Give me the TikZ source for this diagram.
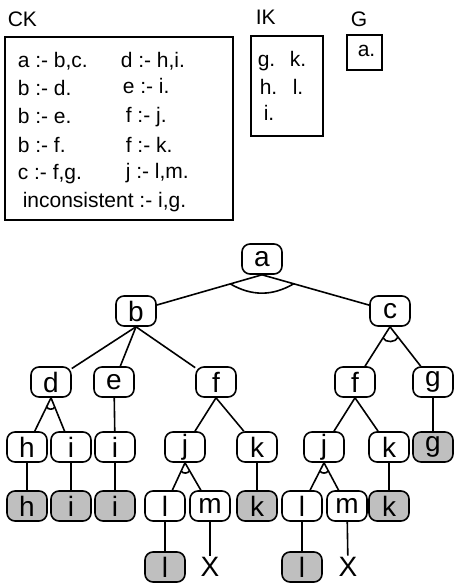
\documentclass[tikz,border=0pt]{standalone}
\usepackage{fontspec}
\setmainfont{Liberation Sans}
\usetikzlibrary{calc}
\newcommand{\boxfont}{\fontsize{21}{25}\selectfont}
\newcommand{\treefont}{\fontsize{28}{30}\selectfont}
\tikzset{
  goal/.style={draw, line width=1.6pt, rounded corners=8pt, minimum width=40pt,
    minimum height=30pt, inner sep=0pt, font=\treefont},
  fact/.style={goal, fill=black!25},
  fail/.style={inner sep=1pt, font=\treefont},
  clause/.style={anchor=base west, inner sep=0pt, font=\boxfont},
  andarc/.style={bend right=#1},
}

\begin{document}
\begin{tikzpicture}[x=1pt, y=1pt, line width=1.6pt]
\useasboundingbox (0,0) rectangle (454,-583);

% clause base CK
\node[clause] (cklabel) at (7,-27) {CK};
\draw[line width=1.4pt] (5,-37) rectangle (233,-220);
\node[clause] (ck1) at (17,-68) {a :- b,c.};
\node[clause] (ck2) at (17,-96) {b :- d.};
\node[clause] (ck3) at (17,-124) {b :- e.};
\node[clause] (ck4) at (17,-152) {b :- f.};
\node[clause] (ck5) at (17,-179) {c :- f,g.};
\node[clause] (ck6) at (120,-68) {d :- h,i.};
\node[clause] (ck7) at (122,-94) {e :- i.};
\node[clause] (ck8) at (125,-123) {f :- j.};
\node[clause] (ck9) at (125,-152) {f :- k.};
\node[clause] (ck10) at (125,-178) {j :- l,m.};
\node[clause] (ck11) at (22,-207) {inconsistent :- i,g.};

% facts IK and goal G
\node[clause] (iklabel) at (255,-25) {IK};
\draw[line width=1.4pt] (251,-36) rectangle (323,-136);
\node[clause] (ik1) at (257,-67) {g.};
\node[clause] (ik2) at (289,-67) {k.};
\node[clause] (ik3) at (259,-95) {h.};
\node[clause] (ik4) at (292,-95) {l.};
\node[clause] (ik5) at (263,-121) {i.};
\node[clause] (glabel) at (350,-27) {G};
\draw[line width=1.4pt] (347,-35) rectangle (382,-70);
\node[clause] (g1) at (357,-57) {a.};

% the search tree
\node[goal] (a) at (262,-259) {a};
\node[goal] (b) at (136,-311) {b};
\node[goal] (c) at (390,-311) {c};
\node[goal] (d) at (51,-382) {d};
\node[goal] (e) at (114,-382) {e};
\node[goal] (f1) at (216,-382) {f};
\node[goal] (f2) at (355,-382) {f};
\node[goal] (g) at (433,-382) {g};
\node[goal] (h) at (27,-447) {h};
\node[goal] (i1) at (71,-447) {i};
\node[goal] (i2) at (115,-447) {i};
\node[goal] (j1) at (185,-447) {j};
\node[goal] (k1) at (257,-447) {k};
\node[goal] (j2) at (324,-447) {j};
\node[goal] (k2) at (389,-447) {k};
\node[fact] (gx) at (433,-447) {g};
\node[fact] (hx) at (27,-506) {h};
\node[fact] (i1x) at (71,-506) {i};
\node[fact] (i2x) at (115,-506) {i};
\node[goal] (l1) at (165,-506) {l};
\node[goal] (m1) at (210,-506) {m};
\node[fact] (k1x) at (257,-506) {k};
\node[goal] (l2) at (302,-506) {l};
\node[goal] (m2) at (347,-506) {m};
\node[fact] (k2x) at (389,-506) {k};
\node[fact] (l1x) at (165,-567) {l};
\node[fail] (x1) at (210,-567) {X};
\node[fact] (l2x) at (302,-567) {l};
\node[fail] (x2) at (348,-567) {X};

\draw (a.south) -- (b);
\draw (a.south) -- (c);
\draw (b.south) -- (d);
\draw (b.south) -- (e);
\draw (b.south) -- (f1);
\draw (c.south) -- (f2);
\draw (c.south) -- (g);
\draw (d.south) -- (h);
\draw (d.south) -- (i1);
\draw (e) -- (i2);
\draw (f1.south) -- (j1);
\draw (f1.south) -- (k1);
\draw (f2.south) -- (j2);
\draw (f2.south) -- (k2);
\draw (g) -- (gx);
\draw (h) -- (hx);
\draw (i1) -- (i1x);
\draw (i2) -- (i2x);
\draw (j1.south) -- (l1);
\draw (j1.south) -- (m1);
\draw (k1) -- (k1x);
\draw (j2.south) -- (l2);
\draw (j2.south) -- (m2);
\draw (k2) -- (k2x);
\draw (l1) -- (l1x);
\draw (m1) -- (x1);
\draw (l2) -- (l2x);
\draw (m2) -- (x2);

% arcs joining the subgoals of a conjunction
\draw ($(a.south)!33pt!(b)$) to[andarc=30] ($(a.south)!33pt!(c)$);
\draw ($(c.south)!13pt!(f2)$) to[andarc=70] ($(c.south)!13pt!(g)$);
\draw ($(d.south)!10pt!(h)$) to[andarc=70] ($(d.south)!10pt!(i1)$);
\draw ($(j1.south)!9pt!(l1)$) to[andarc=70] ($(j1.south)!9pt!(m1)$);
\draw ($(j2.south)!9pt!(l2)$) to[andarc=70] ($(j2.south)!9pt!(m2)$);
\end{tikzpicture}
\end{document}
